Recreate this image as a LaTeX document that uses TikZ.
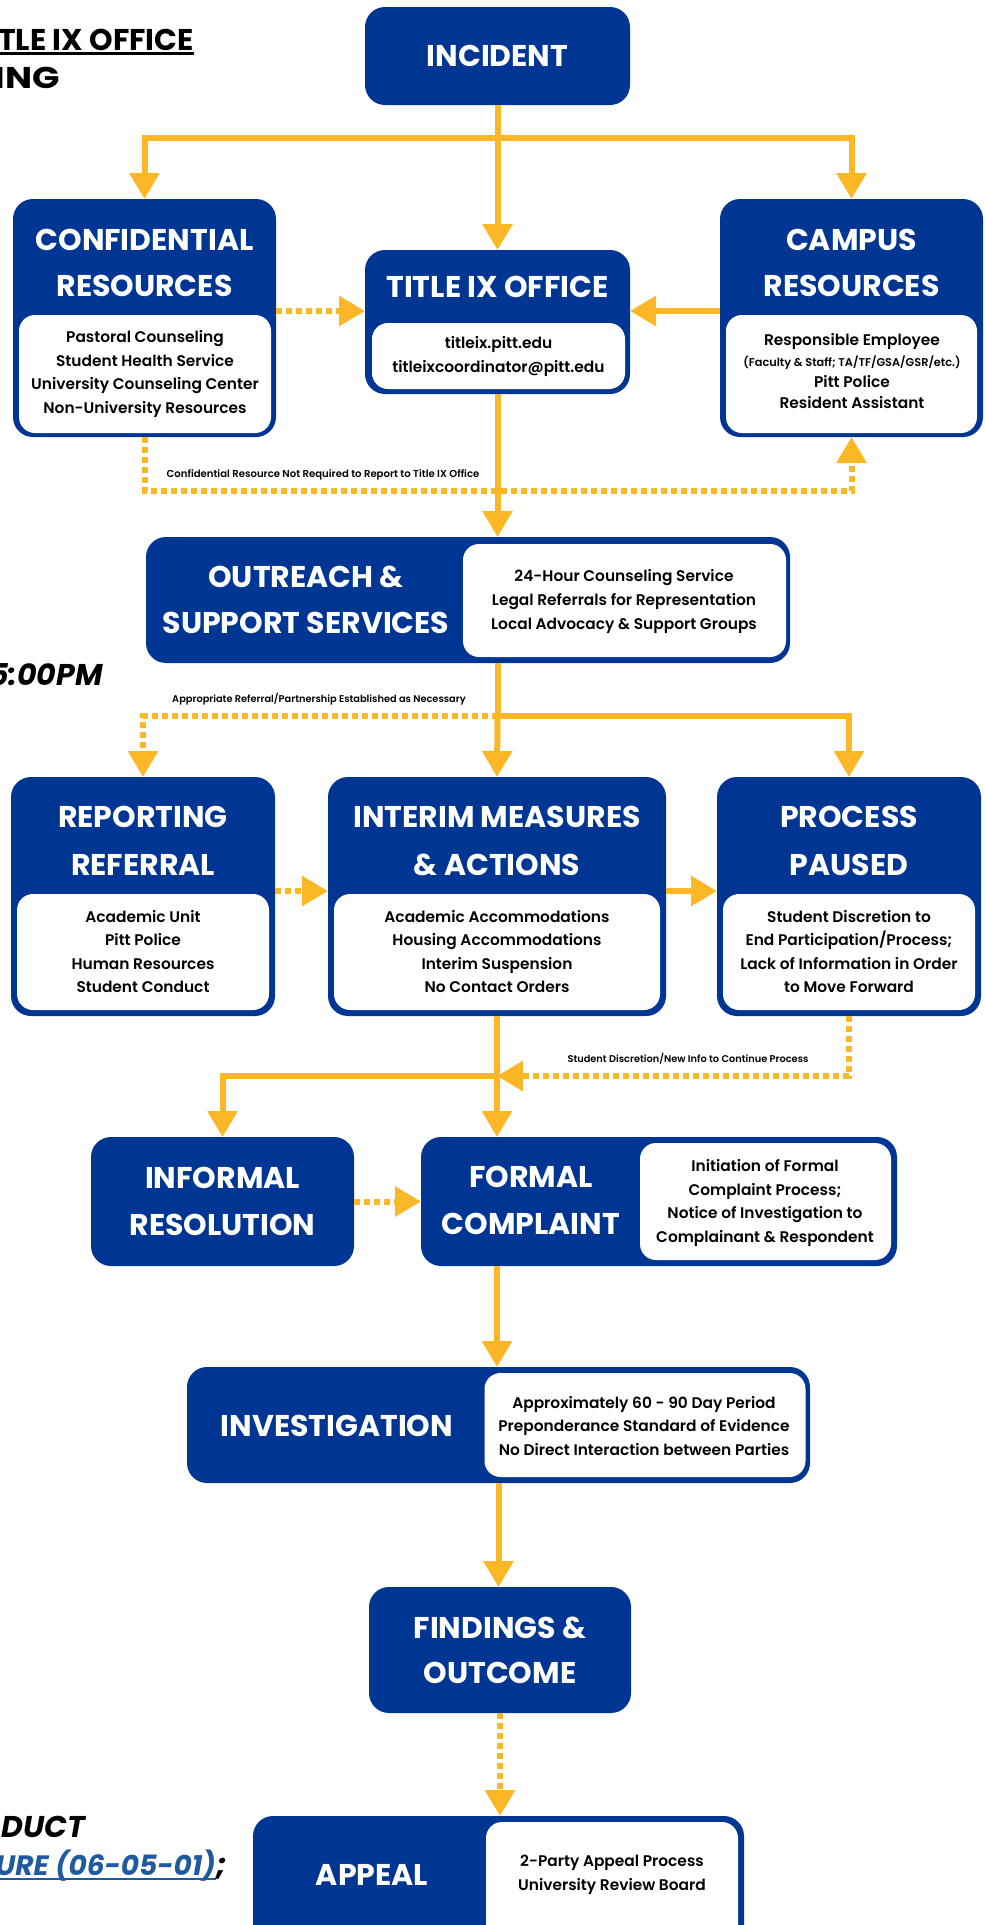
\documentclass[tikz,border=0pt]{standalone}
\usepackage{fontspec}
\setmainfont{Poppins}
\newfontfamily\popsb{Poppins SemiBold}
\usetikzlibrary{arrows.meta}
\definecolor{pittblue}{RGB}{0,54,147}
\definecolor{gold}{RGB}{252,183,38}
\definecolor{linkblue}{RGB}{31,90,158}
\tikzset{
  bbox/.style={fill=pittblue, rounded corners=20pt, inner sep=0pt, outer sep=0pt},
  wbox/.style={fill=white, rounded corners=16pt, inner sep=0pt, outer sep=0pt},
  head/.style={text=white, align=center, inner sep=0pt, font=\bfseries\fontsize{30}{46}\selectfont},
  lst/.style={text=black, align=center, inner sep=0pt, font=\popsb\fontsize{15.4}{23.5}\selectfont},
  note/.style={text=black, inner sep=0pt, font=\popsb\fontsize{9.8}{11}\selectfont},
  side/.style={text=black, inner sep=0pt, font=\bfseries\fontsize{30}{36}\selectfont},
  flow/.style={draw=gold, line width=6pt},
  arr/.style={flow, -{Triangle[width=29pt,length=26pt]}},
  darr/.style={arr, dash pattern=on 6pt off 4pt},
  dflow/.style={flow, dash pattern=on 6pt off 4pt}
}
\begin{document}
\begin{tikzpicture}[x=1pt,y=-1pt]
\useasboundingbox (0,0) rectangle (985,1925);
\clip (0,0) rectangle (985,1925);
\fill[white] (0,0) rectangle (985,1925);

% side texts
\node[side, anchor=base east] (s1) at (194,50) {TLE IX OFFICE};
\draw[line width=2.5pt] ([yshift=-3.5pt]s1.base west) -- ([yshift=-3.5pt]s1.base east);
\node[side, anchor=base east] (s2) at (60,88) {\scalebox{1.2}[1]{ING}};
\node[side, anchor=base east, font=\bfseries\itshape\fontsize{30}{36}\selectfont] (s3) at (103,685) {5:00PM};
\node[side, anchor=base east, font=\bfseries\itshape\fontsize{30}{36}\selectfont] (s4) at (85,1837) {DUCT};
\node[side, anchor=base east, text=linkblue, font=\bfseries\itshape\fontsize{28}{36}\selectfont] (s5) at (216,1875) {URE (06-05-01)};
\draw[linkblue, line width=2pt] ([yshift=-4pt]s5.base west) -- ([yshift=-4pt]s5.base east);
\node[side, anchor=base west, font=\bfseries\itshape\fontsize{30}{36}\selectfont] (s6) at (s5.base east) {;};

% boxes
\node[bbox, minimum width=265pt, minimum height=98pt] (inc) at (497.5,56) {};
\node[head] (inc-h) at (497.5,56) {INCIDENT};

\node[bbox, minimum width=263pt, minimum height=238pt] (conf) at (144.5,318) {};
\node[wbox, minimum width=252pt, minimum height=118pt] (confw) at (145,374) {};
\node[head] (conf-h) at (144.5,262.5) {CONFIDENTIAL\\RESOURCES};
\node[lst] (conf-l) at (145,374) {Pastoral Counseling\\Student Health Service\\University Counseling Center\\Non-University Resources};

\node[bbox, minimum width=265pt, minimum height=144pt] (tix) at (497.5,322) {};
\node[wbox, minimum width=253pt, minimum height=66pt] (tixw) at (498.5,356) {};
\node[head] (tix-h) at (497.5,287) {TITLE IX OFFICE};
\node[lst] (tix-l) at (498.5,356.5) {titleix.pitt.edu\\titleixcoordinator@pitt.edu};

\node[bbox, minimum width=263pt, minimum height=238pt] (camp) at (851.5,318) {};
\node[wbox, minimum width=251pt, minimum height=118pt] (campw) at (851.5,374) {};
\node[head] (camp-h) at (851.5,262.5) {CAMPUS\\RESOURCES};
\node[lst, font=\popsb\fontsize{15.4}{21}\selectfont] (camp-l) at (852,371) {Responsible Employee\\{\fontsize{11.3}{13}\selectfont(Faculty \& Staff; TA/TF/GSA/GSR/etc.)}\\Pitt Police\\Resident Assistant};

\node[bbox, minimum width=644pt, minimum height=126pt] (out) at (468,600) {};
\node[wbox, minimum width=323pt, minimum height=113pt] (outw) at (624.5,600.5) {};
\node[head] (out-h) at (306,599.5) {OUTREACH \&\\SUPPORT SERVICES};
\node[lst, font=\popsb\fontsize{15.4}{24}\selectfont] (out-l) at (624,601) {24-Hour Counseling Service\\Legal Referrals for Representation\\Local Advocacy \& Support Groups};

\node[bbox, minimum width=264pt, minimum height=239pt] (rep) at (143,896.5) {};
\node[wbox, minimum width=252pt, minimum height=116pt] (repw) at (143,952) {};
\node[head, font=\bfseries\fontsize{30}{48}\selectfont] (rep-h) at (143,841) {REPORTING\\REFERRAL};
\node[lst] (rep-l) at (143,951.5) {Academic Unit\\Pitt Police\\Human Resources\\Student Conduct};

\node[bbox, minimum width=338pt, minimum height=239pt] (int) at (497,896.5) {};
\node[wbox, minimum width=326pt, minimum height=116pt] (intw) at (497,952) {};
\node[head, font=\bfseries\fontsize{30}{48}\selectfont] (int-h) at (497,841) {INTERIM MEASURES\\\& ACTIONS};
\node[lst] (int-l) at (497,951.5) {Academic Accommodations\\Housing Accommodations\\Interim Suspension\\No Contact Orders};

\node[bbox, minimum width=264pt, minimum height=239pt] (proc) at (849,896.5) {};
\node[wbox, minimum width=252pt, minimum height=116pt] (procw) at (849,952) {};
\node[head, font=\bfseries\fontsize{30}{48}\selectfont] (proc-h) at (849,841) {PROCESS\\PAUSED};
\node[lst] (proc-l) at (849,951.5) {Student Discretion to\\End Participation/Process;\\Lack of Information in Order\\to Move Forward};

\node[bbox, minimum width=263pt, minimum height=129pt] (inf) at (222.5,1201.5) {};
\node[head, font=\bfseries\fontsize{30}{47}\selectfont] (inf-h) at (222.5,1201.5) {INFORMAL\\RESOLUTION};

\node[bbox, minimum width=476pt, minimum height=129pt] (form) at (659,1201.5) {};
\node[wbox, minimum width=251pt, minimum height=117pt] (formw) at (765.5,1201.5) {};
\node[head, font=\bfseries\fontsize{30}{47}\selectfont] (form-h) at (531,1200.5) {FORMAL\\COMPLAINT};
\node[lst] (form-l) at (765,1203) {Initiation of Formal\\Complaint Process;\\Notice of Investigation to\\Complainant \& Respondent};

\node[bbox, minimum width=623pt, minimum height=116pt] (inv) at (498.5,1425) {};
\node[wbox, minimum width=321pt, minimum height=104pt] (invw) at (645,1425) {};
\node[head] (inv-h) at (337,1426) {INVESTIGATION};
\node[lst] (inv-l) at (644,1426) {Approximately 60 - 90 Day Period\\Preponderance Standard of Evidence\\No Direct Interaction between Parties};

\node[bbox, minimum width=262pt, minimum height=126pt] (fin) at (500,1650) {};
\node[head, font=\bfseries\fontsize{30}{45}\selectfont] (fin-h) at (500,1650.5) {FINDINGS \&\\OUTCOME};

\node[bbox, minimum width=491pt, minimum height=148pt] (app) at (498.5,1890) {};
\node[wbox, minimum width=252pt, minimum height=136pt] (appw) at (612,1890) {};
\node[head] (app-h) at (372,1875) {APPEAL};
\node[lst] (app-l) at (612,1875) {2-Party Appeal Process\\University Review Board};

% helper coordinates
\coordinate (j1) at (497.5,138);
\coordinate (arow) at (0,311);
\coordinate (dl) at (0,491);
\coordinate (j2) at (497.5,716);
\coordinate (brow) at (0,891);
\coordinate (j3) at (497,1076);

% connectors
\draw[arr] (inc.south) -- (tix.north);
\draw[arr] (j1) -| (conf.north);
\draw[arr] (j1) -| (camp.north);
\draw[darr] (conf.east |- arow) -- (tix.west |- arow);
\draw[arr] (camp.west |- arow) -- (tix.east |- arow);
\draw[darr] (conf.south) -- (conf.south |- dl) -| (camp.south);
\node[note, font=\popsb\fontsize{10.1}{11}\selectfont] (lab1) at (323,475) {Confidential Resource Not Required to Report to Title IX Office};

\draw[arr] (tix.south) -- (tix.south |- out.north);
\draw[flow] (tix.south |- out.south) -- (j2);
\draw[arr] (j2) -- (int.north);
\draw[arr] (j2) -| (proc.north);
\draw[darr] (j2) -| (rep.north);
\node[note] (lab2) at (319,699) {Appropriate Referral/Partnership Established as Necessary};

\draw[darr] (rep.east |- brow) -- (int.west |- brow);
\draw[arr] (int.east |- brow) -- (proc.west |- brow);

\draw[arr] (int.south) -- (int.south |- form.north);
\draw[arr] (j3) -| (inf.north);
\draw[darr] (proc.south) |- (j3);
\node[note] (lab3) at (688,1059) {Student Discretion/New Info to Continue Process};

\draw[darr] (inf.east) -- (form.west);
\draw[arr] (int.south |- form.south) -- (int.south |- inv.north);
\draw[arr] (inv.south) -- (inv.south |- fin.north);
\draw[darr] (fin.south) -- (fin.south |- app.north);
\end{tikzpicture}
\end{document}
